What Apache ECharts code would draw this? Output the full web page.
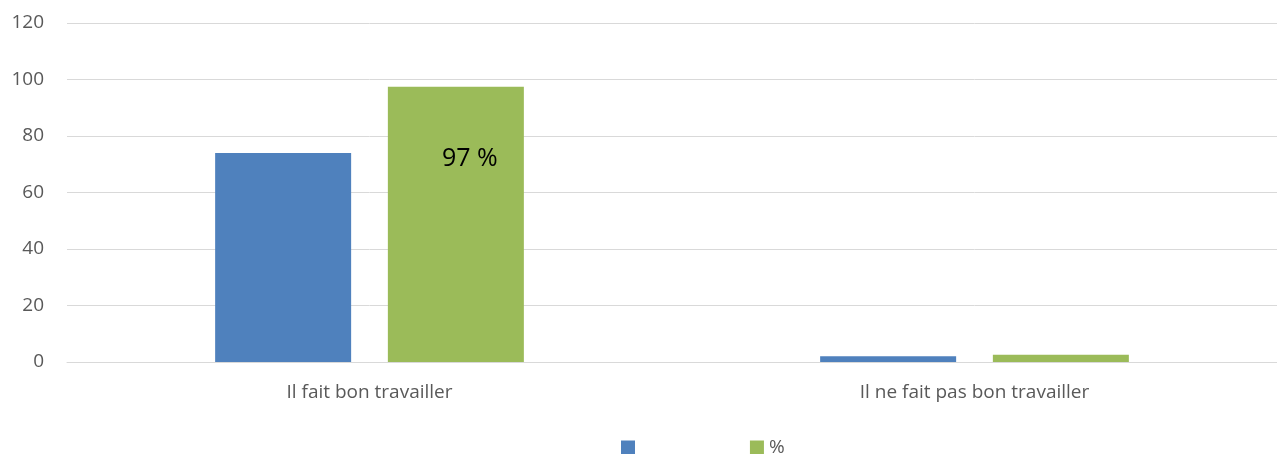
<!DOCTYPE html>
<html>
<head>
<meta charset="utf-8">
<script src="https://cdn.jsdelivr.net/npm/echarts@6/dist/echarts.min.js"></script>
<style>html,body{margin:0;padding:0;background:#fff;}#c{width:1277px;height:454px;}</style>
</head>
<body>
<div id="c"></div>
<script>
const categories = ['Il fait bon travailler', 'Il ne fait pas bon travailler'];
const countValues = [74, 2];
const percentValues = [97.4, 2.6];
const percentLabels = ['97 %', ''];
const yTicks = { min: 0, max: 120, interval: 20 };
const seriesNames = ['\u00a0', '%'];

const chart = echarts.init(document.getElementById('c'));
const font = '"Open Sans", "Noto Sans", sans-serif';
chart.setOption({
  animation: false,
  textStyle: { fontFamily: font },
  grid: { left: 67, right: 0, top: 23, bottom: 92, containLabel: false },
  legend: {
    left: 616, top: 433,
    itemWidth: 14, itemHeight: 14, itemGap: 105,
    icon: 'rect',
    textStyle: { fontSize: 19, color: '#595959', fontFamily: font },
    data: seriesNames
  },
  xAxis: {
    type: 'category', data: categories,
    axisLine: { lineStyle: { color: '#d9d9d9', width: 1 } },
    axisTick: { show: false },
    axisLabel: { fontSize: 19, color: '#595959', margin: 21, fontFamily: font }
  },
  yAxis: {
    type: 'value', min: yTicks.min, max: yTicks.max, interval: yTicks.interval,
    axisLine: { show: false }, axisTick: { show: false },
    splitLine: { lineStyle: { color: '#d9d9d9', width: 1 } },
    axisLabel: { fontSize: 19, color: '#595959', margin: 23, fontFamily: font }
  },
  series: [
    {
      name: seriesNames[0], type: 'bar', data: countValues,
      barWidth: 136, barGap: '27%',
      itemStyle: { color: '#4f81bd' }
    },
    {
      name: seriesNames[1], type: 'bar', data: percentValues,
      barWidth: 136,
      itemStyle: { color: '#9bbb59' },
      label: {
        show: true, position: 'insideTop', distance: 60, offset: [14, 0],
        fontSize: 25, color: '#000', fontFamily: font,
        formatter: p => percentLabels[p.dataIndex]
      }
    }
  ]
});
</script>
</body>
</html>
